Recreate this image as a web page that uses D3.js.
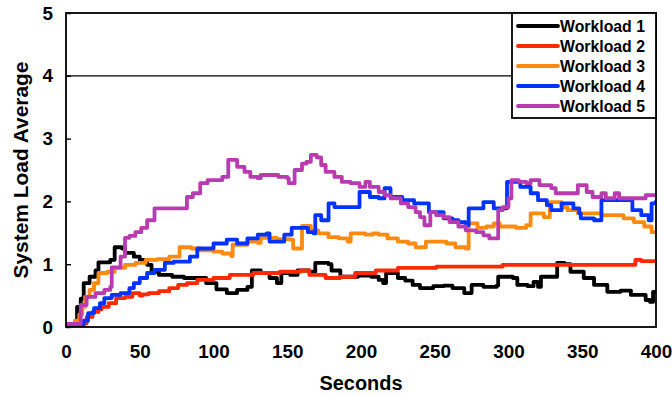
<!DOCTYPE html>
<html><head><meta charset="utf-8">
<script src="https://cdn.jsdelivr.net/npm/d3@7"></script>
<style>body{margin:0;background:#fff;} svg{display:block;} text{font-family:Arial,"Liberation Sans",sans-serif;font-weight:bold;}</style>
</head><body><svg id="c" width="672" height="396"></svg>
<script>
const seriesNames = ["Workload 1","Workload 2","Workload 3","Workload 4","Workload 5"];
const colors = ["#000000","#ff2a00","#ff8a10","#0033ff","#b83cb0"];
const xTicks = [0,50,100,150,200,250,300,350,400];
const yTicks = [0,1,2,3,4,5];

const w1 = [[0,0],[6,0],[7.5,0.32],[10,0.45],[12,0.7],[16,0.8],[20,0.9],[22,1.03],[30,1.07],[33,1.27],[38,1.25],[40,1.18],[46,1.12],[50,1.07],[55,0.99],[58,0.88],[63,0.83],[72,0.8],[80,0.78],[86,0.78],[95,0.7],[102,0.6],[109,0.54],[116,0.59],[123,0.64],[126,0.9],[132,0.86],[138,0.78],[143,0.7],[146,0.86],[152,0.83],[157,0.9],[165,0.88],[169,1.02],[178,1.0],[180,0.9],[186,0.8],[198,0.82],[207,0.8],[212,0.75],[215,0.7],[217,0.86],[225,0.78],[230,0.74],[235,0.67],[240,0.62],[249,0.65],[256,0.66],[262,0.62],[270,0.54],[275,0.67],[283,0.64],[292,0.66],[293,0.8],[303,0.78],[306,0.67],[313,0.65],[317,0.72],[320,0.64],[322,0.8],[331,0.8],[333,1.02],[338,1.0],[342,0.88],[351,0.78],[358,0.67],[367,0.56],[376,0.58],[383,0.51],[393,0.43],[396,0.40],[398,0.56],[400,0.56]];
const w2 = [[0,0],[10,0],[11,0.06],[14,0.16],[18,0.24],[22,0.28],[24,0.32],[29,0.38],[34,0.46],[40,0.48],[45,0.54],[50,0.5],[52,0.52],[56,0.54],[63,0.57],[70,0.62],[76,0.67],[82,0.7],[89,0.75],[100,0.78],[111,0.83],[127,0.86],[145,0.88],[159,0.9],[165,0.83],[176,0.78],[186,0.8],[196,0.86],[210,0.9],[225,0.94],[251,0.96],[296,0.99],[385,0.99],[386,1.07],[390,1.05],[400,1.05]];
const w3 = [[0,0],[5,0],[6,0.1],[9,0.2],[11,0.32],[13,0.48],[16,0.59],[19,0.7],[22,0.86],[28,0.88],[33,0.94],[40,0.99],[47,1.02],[54,1.07],[62,1.08],[70,1.12],[77,1.27],[85,1.25],[91,1.22],[100,1.2],[106,1.17],[112,1.13],[113,1.31],[123,1.36],[130,1.34],[132,1.42],[143,1.4],[152,1.39],[154,1.25],[159,1.25],[160,1.61],[166,1.54],[171,1.49],[178,1.43],[185,1.41],[191,1.36],[193,1.49],[203,1.47],[208,1.49],[212,1.47],[218,1.41],[225,1.36],[232,1.33],[237,1.27],[244,1.36],[258,1.33],[264,1.27],[271,1.25],[273,1.65],[279,1.58],[285,1.6],[290,1.65],[294,1.6],[305,1.58],[312,1.62],[315,1.81],[324,1.75],[328,1.99],[336,1.91],[340,1.86],[347,1.81],[363,1.78],[378,1.73],[385,1.67],[392,1.6],[397,1.51],[400,1.51]];
const w4 = [[0,0.02],[11,0.02],[12,0.1],[15,0.22],[19,0.3],[23,0.38],[26,0.46],[31,0.51],[37,0.54],[43,0.62],[46,0.7],[50,0.78],[55,0.86],[60,0.91],[67,1.02],[73,1.04],[80,1.04],[84,1.12],[89,1.25],[100,1.33],[109,1.39],[116,1.33],[123,1.41],[130,1.47],[136,1.49],[138,1.36],[148,1.47],[153,1.58],[164,1.51],[168,1.49],[169,1.78],[173,1.7],[178,1.97],[182,1.91],[199,2.15],[206,2.07],[212,2.05],[216,2.21],[220,2.07],[228,2.02],[236,1.97],[246,1.83],[256,1.73],[262,1.7],[266,1.67],[271,1.62],[273,1.89],[283,1.99],[290,1.89],[299,2.31],[308,2.23],[315,2.13],[320,2.02],[326,1.94],[329,1.86],[336,1.97],[344,1.89],[348,1.81],[349,1.73],[358,1.7],[363,2.02],[382,2.02],[384,1.86],[390,1.78],[395,1.7],[397,1.97],[400,2.02]];
const w5 = [[0,0.05],[9,0.05],[10,0.35],[14,0.48],[20,0.54],[26,0.59],[30,0.64],[31,0.95],[37,1.12],[40,1.42],[43,1.45],[47,1.51],[51,1.58],[55,1.7],[60,1.89],[79,1.89],[82,2.07],[86,2.13],[91,2.29],[96,2.34],[100,2.34],[106,2.39],[110,2.66],[114,2.66],[116,2.55],[121,2.47],[125,2.39],[130,2.37],[132,2.42],[140,2.42],[144,2.39],[150,2.37],[151,2.29],[155,2.5],[160,2.6],[163,2.63],[166,2.74],[170,2.7],[173,2.58],[176,2.47],[182,2.39],[187,2.31],[193,2.29],[199,2.23],[203,2.31],[206,2.23],[212,2.15],[216,2.1],[220,2.05],[227,1.97],[232,1.91],[237,1.83],[240,1.75],[243,1.62],[247,1.83],[251,1.78],[256,1.75],[260,1.67],[266,1.6],[271,1.54],[278,1.51],[283,1.46],[287,1.41],[292,1.41],[293,1.86],[296,1.91],[300,2.05],[302,2.34],[307,2.31],[312,2.29],[315,2.34],[321,2.26],[329,2.21],[332,2.13],[344,2.13],[347,2.26],[353,2.15],[357,2.07],[363,2.13],[366,2.05],[372,2.13],[375,2.05],[390,2.05],[393,2.1],[400,2.1]];
const allSeries = [w1,w2,w3,w4,w5];

const svg = d3.select("#c");
const L=66, R=656, T=13, B=327;
const x = d3.scaleLinear().domain([0,400]).range([L,R]);
const y = d3.scaleLinear().domain([0,5]).range([B,T]);

// fit a font size so that a sample text reaches a target width
function fitSize(sample, target){
  const t = svg.append("text").attr("font-size",20).text(sample);
  const wpx = t.node().getComputedTextLength();
  t.remove();
  return 20*target/wpx;
}
const tickFs = fitSize("400",31.5);
const xTitleFs = fitSize("Seconds",83);
const yTitleFs = fitSize("System Load Average",217);
const legFs = fitSize("Workload 1",85);

svg.append("line").attr("x1",L).attr("x2",R).attr("y1",y(4)).attr("y2",y(4)).attr("stroke","#000").attr("stroke-width",1.2);

svg.append("clipPath").attr("id","clip").append("rect").attr("x",L).attr("y",T).attr("width",R-L).attr("height",B-T);

const line = d3.line().x(d=>x(d[0])).y(d=>y(d[1])).curve(d3.curveStepAfter);
allSeries.forEach((s,i)=>{
  svg.append("path").datum(s).attr("d",line).attr("fill","none").attr("stroke",colors[i]).attr("stroke-width",3.8).attr("stroke-linejoin","round").attr("clip-path","url(#clip)");
});

svg.append("rect").attr("x",L).attr("y",T).attr("width",R-L).attr("height",B-T).attr("fill","none").attr("stroke","#000").attr("stroke-width",1.8);

const ya = svg.append("g").attr("transform",`translate(${L},0)`).call(d3.axisLeft(y).tickValues(yTicks).tickSize(-5).tickPadding(13).tickFormat(d3.format("d")));
ya.select(".domain").remove();
ya.selectAll("line").attr("stroke","#000").attr("stroke-width",1.4);
ya.selectAll("text").attr("font-size",tickFs).attr("font-weight","bold").attr("fill","#000").attr("font-family","Arial");

const xa = svg.append("g").attr("transform",`translate(0,${B})`).call(d3.axisBottom(x).tickValues(xTicks).tickSize(0).tickPadding(18).tickFormat(d3.format("d")));
xa.select(".domain").remove();
xa.selectAll("text").attr("font-size",tickFs).attr("font-weight","bold").attr("fill","#000").attr("font-family","Arial");

svg.append("text").attr("x",(L+R)/2).attr("y",390).attr("text-anchor","middle").attr("font-size",xTitleFs).text("Seconds");
svg.append("text").attr("transform",`translate(28,${(T+B)/2}) rotate(-90)`).attr("text-anchor","middle").attr("font-size",yTitleFs).text("System Load Average");

const lg = svg.append("g");
lg.append("rect").attr("x",512).attr("y",T).attr("width",R-512).attr("height",105).attr("fill","#fff").attr("stroke","#000").attr("stroke-width",1.8);
seriesNames.forEach((n,i)=>{
  const yy = 26+20*i;
  lg.append("line").attr("x1",518).attr("x2",558).attr("y1",yy).attr("y2",yy).attr("stroke",colors[i]).attr("stroke-width",3.8).attr("stroke-linecap","round");
  lg.append("text").attr("x",560).attr("y",yy).attr("dy","0.36em").attr("font-size",legFs).text(n);
});
</script></body></html>
